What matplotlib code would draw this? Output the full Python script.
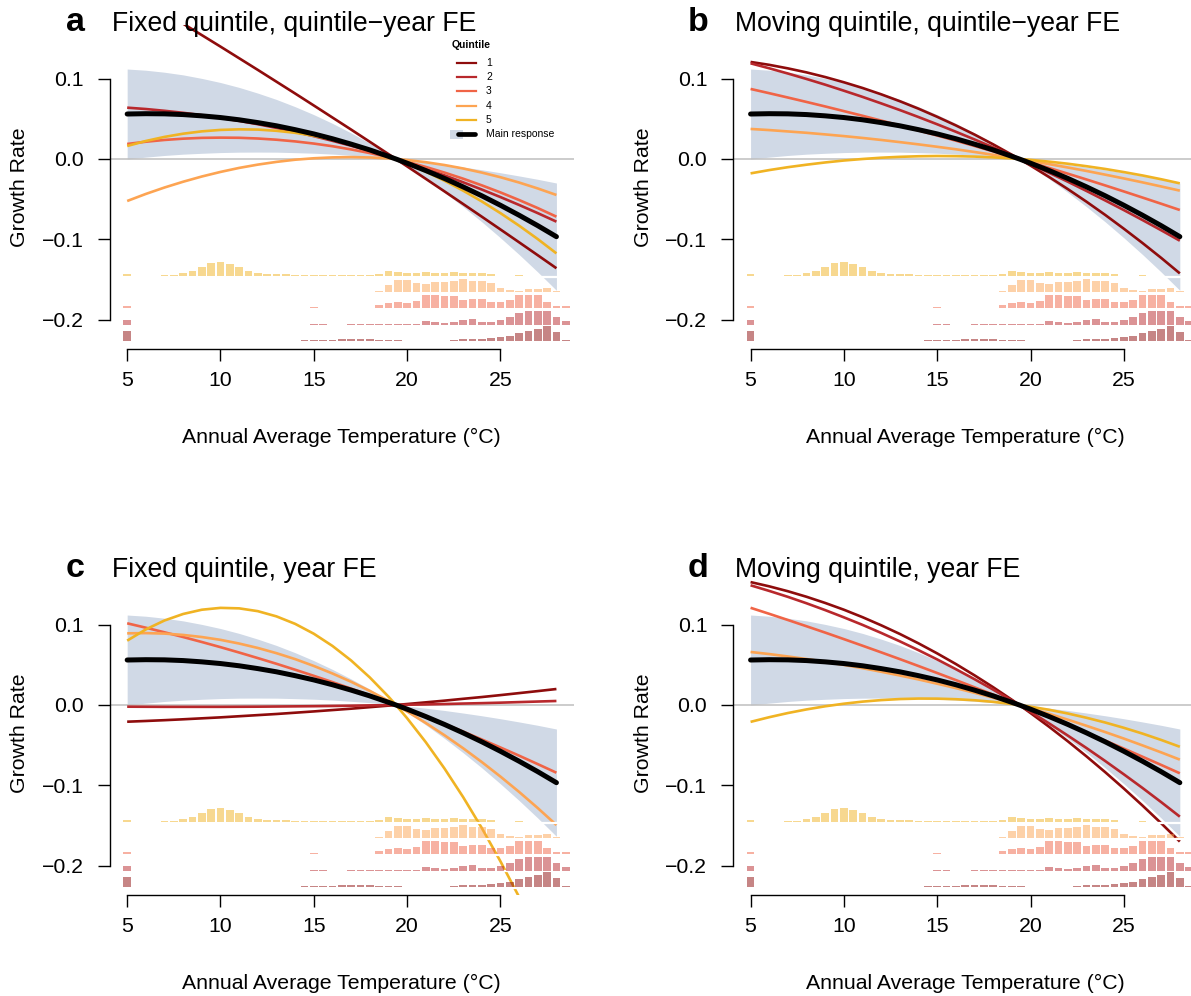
import matplotlib
matplotlib.use("Agg")
import matplotlib.pyplot as plt
from matplotlib.patches import Rectangle
import numpy as np

plt.rcParams['font.family'] = ['Liberation Sans', 'DejaVu Sans']

# ---------------- data ----------------
TEMPS = [5, 6, 7, 8, 9, 10, 11, 12, 13, 14, 15, 16, 17, 18, 19, 19.4,
         20, 21, 22, 23, 24, 25, 26, 27, 28]

MAIN = [0.0560, 0.0564, 0.0562, 0.0553, 0.0537, 0.0516, 0.0488, 0.0453, 0.0413, 0.0365, 0.0312, 0.0252,
        0.0185, 0.0113, 0.0033, 0.0, -0.0052, -0.0144, -0.0242, -0.0347, -0.0458, -0.0576, -0.0700, -0.0830, -0.0967]
BAND_HI = [0.1120, 0.1105, 0.1080, 0.1047, 0.1003, 0.0952, 0.0891, 0.0820, 0.0741, 0.0651, 0.0552, 0.0443,
           0.0324, 0.0197, 0.0058, 0.0, -0.0014, -0.0040, -0.0068, -0.0100, -0.0134, -0.0171, -0.0211, -0.0253, -0.0299]
BAND_LO = [0.0000, 0.0023, 0.0044, 0.0060, 0.0071, 0.0080, 0.0085, 0.0086, 0.0085, 0.0079, 0.0072, 0.0061,
           0.0046, 0.0029, 0.0008, 0.0, -0.0090, -0.0248, -0.0416, -0.0594, -0.0782, -0.0981, -0.1189, -0.1407, -0.1635]

# panel a: fixed quintile, quintile-year FE
A_Q1 = [0.2105, 0.1966, 0.1826, 0.1684, 0.1542, 0.1399, 0.1254, 0.1109, 0.0962, 0.0815, 0.0666, 0.0516,
        0.0366, 0.0214, 0.0061, 0.0, -0.0092, -0.0247, -0.0403, -0.0560, -0.0718, -0.0877, -0.1037, -0.1198, -0.1360]
A_Q2 = [0.0639, 0.0622, 0.0600, 0.0575, 0.0545, 0.0512, 0.0474, 0.0433, 0.0387, 0.0338, 0.0284, 0.0226,
        0.0165, 0.0099, 0.0029, 0.0, -0.0045, -0.0123, -0.0204, -0.0290, -0.0380, -0.0474, -0.0572, -0.0674, -0.0780]
A_Q3 = [0.0187, 0.0215, 0.0237, 0.0253, 0.0263, 0.0266, 0.0264, 0.0255, 0.0240, 0.0219, 0.0192, 0.0159,
        0.0119, 0.0074, 0.0022, 0.0, -0.0035, -0.0099, -0.0169, -0.0245, -0.0328, -0.0416, -0.0511, -0.0611, -0.0718]
A_Q4 = [-0.0523, -0.0435, -0.0355, -0.0283, -0.0218, -0.0161, -0.0111, -0.0070, -0.0036, -0.0009, 0.0009, 0.0020,
        0.0024, 0.0019, 0.0007, 0.0, -0.0013, -0.0040, -0.0075, -0.0118, -0.0169, -0.0227, -0.0293, -0.0367, -0.0448]
A_Q5 = [0.0162, 0.0224, 0.0275, 0.0315, 0.0344, 0.0362, 0.0369, 0.0366, 0.0351, 0.0326, 0.0289, 0.0242,
        0.0184, 0.0115, 0.0035, 0.0, -0.0056, -0.0158, -0.0270, -0.0394, -0.0528, -0.0674, -0.0830, -0.0997, -0.1175]

# panel b: moving quintile, quintile-year FE
B_Q1 = [0.1208, 0.1172, 0.1128, 0.1078, 0.1020, 0.0955, 0.0884, 0.0805, 0.0719, 0.0626, 0.0525, 0.0418,
        0.0304, 0.0182, 0.0053, 0.0, -0.0082, -0.0225, -0.0375, -0.0532, -0.0696, -0.0868, -0.1046, -0.1231, -0.1424]
B_Q2 = [0.1191, 0.1129, 0.1064, 0.0996, 0.0925, 0.0850, 0.0773, 0.0692, 0.0609, 0.0522, 0.0432, 0.0339,
        0.0243, 0.0144, 0.0042, 0.0, -0.0064, -0.0172, -0.0283, -0.0398, -0.0516, -0.0636, -0.0760, -0.0887, -0.1017]
B_Q3 = [0.0872, 0.0819, 0.0765, 0.0710, 0.0654, 0.0596, 0.0538, 0.0478, 0.0417, 0.0355, 0.0292, 0.0228,
        0.0162, 0.0095, 0.0027, 0.0, -0.0042, -0.0112, -0.0183, -0.0255, -0.0329, -0.0404, -0.0480, -0.0557, -0.0635]
B_Q4 = [0.0374, 0.0360, 0.0343, 0.0326, 0.0306, 0.0285, 0.0262, 0.0237, 0.0210, 0.0182, 0.0152, 0.0121,
        0.0087, 0.0052, 0.0015, 0.0, -0.0023, -0.0064, -0.0106, -0.0149, -0.0195, -0.0242, -0.0291, -0.0342, -0.0394]
B_Q5 = [-0.0179, -0.0138, -0.0102, -0.0071, -0.0043, -0.0019, 0.0000, 0.0016, 0.0027, 0.0034, 0.0037, 0.0035,
        0.0030, 0.0020, 0.0007, 0.0, -0.0011, -0.0033, -0.0059, -0.0090, -0.0124, -0.0163, -0.0205, -0.0252, -0.0303]

# panel c: fixed quintile, year FE
C_Q1 = [-0.0208, -0.0199, -0.0189, -0.0178, -0.0166, -0.0154, -0.0140, -0.0126, -0.0112, -0.0096, -0.0080, -0.0063,
        -0.0046, -0.0027, -0.0008, 0.0, 0.0012, 0.0033, 0.0054, 0.0077, 0.0099, 0.0123, 0.0148, 0.0173, 0.0199]
C_Q2 = [-0.0021, -0.0022, -0.0023, -0.0023, -0.0023, -0.0023, -0.0022, -0.0021, -0.0019, -0.0017, -0.0015, -0.0012,
        -0.0009, -0.0005, -0.0002, 0.0, 0.0003, 0.0007, 0.0012, 0.0018, 0.0023, 0.0029, 0.0036, 0.0043, 0.0050]
C_Q3 = [0.1017, 0.0962, 0.0905, 0.0846, 0.0784, 0.0720, 0.0653, 0.0584, 0.0513, 0.0439, 0.0363, 0.0285,
        0.0204, 0.0121, 0.0035, 0.0, -0.0053, -0.0144, -0.0236, -0.0331, -0.0429, -0.0529, -0.0631, -0.0736, -0.0843]
C_Q4 = [0.0892, 0.0895, 0.0889, 0.0872, 0.0846, 0.0811, 0.0765, 0.0710, 0.0645, 0.0571, 0.0486, 0.0392,
        0.0289, 0.0175, 0.0052, 0.0, -0.0081, -0.0224, -0.0376, -0.0538, -0.0710, -0.0891, -0.1082, -0.1283, -0.1494]
C_Q5 = [0.0801, 0.0941, 0.1052, 0.1133, 0.1186, 0.1209, 0.1203, 0.1168, 0.1103, 0.1010, 0.0887, 0.0735,
        0.0554, 0.0343, 0.0104, 0.0, -0.0165, -0.0463, -0.0790, -0.1146, -0.1531, -0.1946, -0.2390, -0.2863, -0.3365]

# panel d: moving quintile, year FE
D_Q1 = [0.1530, 0.1477, 0.1416, 0.1347, 0.1270, 0.1186, 0.1093, 0.0992, 0.0884, 0.0767, 0.0642, 0.0510,
        0.0369, 0.0221, 0.0065, 0.0, -0.0100, -0.0272, -0.0452, -0.0640, -0.0836, -0.1040, -0.1252, -0.1472, -0.1700]
D_Q2 = [0.1490, 0.1420, 0.1346, 0.1266, 0.1181, 0.1091, 0.0997, 0.0897, 0.0792, 0.0682, 0.0567, 0.0446,
        0.0321, 0.0191, 0.0056, 0.0, -0.0085, -0.0230, -0.0381, -0.0536, -0.0697, -0.0863, -0.1033, -0.1209, -0.1390]
D_Q3 = [0.1210, 0.1135, 0.1058, 0.0980, 0.0901, 0.0820, 0.0738, 0.0655, 0.0571, 0.0485, 0.0398, 0.0310,
        0.0220, 0.0129, 0.0037, 0.0, -0.0056, -0.0151, -0.0247, -0.0344, -0.0443, -0.0543, -0.0644, -0.0746, -0.0850]
D_Q4 = [0.0660, 0.0634, 0.0604, 0.0572, 0.0537, 0.0499, 0.0458, 0.0414, 0.0367, 0.0318, 0.0265, 0.0210,
        0.0152, 0.0090, 0.0026, 0.0, -0.0041, -0.0110, -0.0183, -0.0259, -0.0337, -0.0418, -0.0503, -0.0590, -0.0680]
D_Q5 = [-0.0210, -0.0152, -0.0100, -0.0055, -0.0016, 0.0016, 0.0042, 0.0061, 0.0074, 0.0080, 0.0079, 0.0072,
        0.0059, 0.0039, 0.0012, 0.0, -0.0021, -0.0060, -0.0106, -0.0159, -0.0218, -0.0284, -0.0356, -0.0435, -0.0520]

# temperature distribution by quintile (bin centres 5 .. 28.5 step 0.5), heights in 1/1000 growth units
HIST_BINS = [5.0, 5.5, 6.0, 6.5, 7.0, 7.5, 8.0, 8.5, 9.0, 9.5, 10.0, 10.5, 11.0, 11.5, 12.0, 12.5,
             13.0, 13.5, 14.0, 14.5, 15.0, 15.5, 16.0, 16.5, 17.0, 17.5, 18.0, 18.5, 19.0, 19.5, 20.0, 20.5,
             21.0, 21.5, 22.0, 22.5, 23.0, 23.5, 24.0, 24.5, 25.0, 25.5, 26.0, 26.5, 27.0, 27.5, 28.0, 28.5]
HIST_Q5 = [2.1, 0, 0, 0.4, 0.8, 1.7, 3.3, 6.2,
           10.8, 16.6, 17.8, 15.4, 10.8, 6.6, 4.2, 2.9,
           2.5, 2.1, 1.7, 0.8, 0.8, 0.8, 1.7, 1.7,
           1.2, 1.2, 1.7, 2.9, 6.6, 4.6, 3.3, 3.3,
           4.6, 3.7, 3.7, 4.6, 3.7, 3.3, 4.2, 2.1,
           0.4, 0, 0.8, 0.4, 0.4, 0, 0, 0]
HIST_Q4 = [0.4, 0, 0, 0, 0, 0, 0, 0,
           0, 0, 0, 0, 0, 0, 0, 0,
           0, 0, 0, 0.4, 0.6, 0, 0, 0,
           0, 0.2, 0.4, 1.7, 9.1, 14.9, 14.9, 11.2,
           10.0, 12.5, 12.5, 13.7, 16.2, 14.5, 14.1, 11.2,
           5.8, 2.5, 1.7, 4.2, 4.2, 4.6, 1.7, 0]
HIST_Q3 = [3.7, 0, 0, 0, 0, 0, 0, 0,
           0, 0, 0.8, 1.2, 0.8, 0, 0, 0,
           0, 0, 0, 0.8, 2.1, 1.2, 0.4, 0,
           0.8, 0.8, 1.2, 4.2, 7.1, 7.9, 6.6, 9.5,
           17.0, 16.2, 15.8, 15.4, 10.4, 11.6, 11.6, 8.3,
           8.3, 10.0, 16.2, 17.0, 16.2, 7.9, 2.5, 2.5]
HIST_Q2 = [5.6, 0, 0, 0, 0, 0, 0, 0,
           0, 0, 0, 0, 0, 0, 0, 0,
           0, 0, 0, 0, 0.4, 0.4, 0, 0,
           1.2, 1.2, 1.2, 0.8, 0.8, 0.8, 0.4, 1.2,
           4.6, 3.7, 2.5, 2.9, 5.8, 7.1, 2.9, 3.7,
           5.8, 9.4, 14.5, 17.6, 16.8, 17.0, 10.2, 4.2]
HIST_Q1 = [12.0, 0, 0, 0, 0, 0, 0, 0,
           0, 0, 0, 0, 0, 0, 0, 0,
           0, 0.4, 0.6, 0.8, 0.8, 1.2, 1.7, 2.1,
           2.5, 2.5, 2.1, 1.7, 1.7, 0.8, 0.4, 0.4,
           0.4, 0.2, 0.4, 0.8, 2.5, 2.9, 2.1, 3.7,
           4.8, 6.4, 9.8, 13.1, 15.5, 18.2, 11.8, 1.6]

QUINTILE_LABELS = ["1", "2", "3", "4", "5"]
TITLES = ["Fixed quintile, quintile\u2212year FE", "Moving quintile, quintile\u2212year FE",
          "Fixed quintile, year FE", "Moving quintile, year FE"]
LETTERS = ["a", "b", "c", "d"]
X_TICKS = [5, 10, 15, 20, 25]
Y_TICKS = [-0.2, -0.1, 0.0, 0.1]

# ---------------- style ----------------
Q_COLORS = ['#8E0C0C', '#B8282C', '#F06446', '#FDA452', '#F0B323']
BAND_COLOR = '#D0D9E6'
FW, FH = 1191, 996
AX_W, AX_H = 463.6, 324.3
XLIM = (4.08, 28.92)
YLIM = (-0.2369, 0.1668)
BASE_FS = 15.3

fig = plt.figure(figsize=(FW / 100, FH / 100), dpi=100)

panels = [
    (110.0, 25.0, [A_Q1, A_Q2, A_Q3, A_Q4, A_Q5]),
    (733.4, 25.0, [B_Q1, B_Q2, B_Q3, B_Q4, B_Q5]),
    (110.0, 571.0, [C_Q1, C_Q2, C_Q3, C_Q4, C_Q5]),
    (733.4, 571.0, [D_Q1, D_Q2, D_Q3, D_Q4, D_Q5]),
]
hists = [HIST_Q1, HIST_Q2, HIST_Q3, HIST_Q4, HIST_Q5]


def fx(px):
    return px / FW


def fy(py):
    return 1 - py / FH


for k, (left, top, curves) in enumerate(panels):
    ax = fig.add_axes([fx(left), fy(top + AX_H), AX_W / FW, AX_H / FH])
    ax.set_xlim(*XLIM)
    ax.set_ylim(*YLIM)
    ax.patch.set_alpha(0)

    ax.fill_between(TEMPS, BAND_LO, BAND_HI, color=BAND_COLOR, lw=0, zorder=1)
    ax.axhline(0, color='#BEBEBE', lw=1.1, zorder=2)
    for q in range(5):
        ax.plot(TEMPS, curves[q], color=Q_COLORS[q], lw=1.9, zorder=3,
                solid_capstyle='butt')
    ax.plot(TEMPS, MAIN, color='black', lw=3.6, zorder=4, solid_capstyle='round')

    # histograms: quintile 5 on top row, quintile 1 on bottom row
    for q in range(5):
        row = 4 - q
        base = -0.1455 - 0.0203 * row
        # white baseline strip under each histogram row
        ax.hlines(base - 0.0008, HIST_BINS[0] - 0.25, HIST_BINS[-1] + 0.25,
                  color='white', lw=1.6, zorder=5)
        heights = np.array(hists[q]) / 1000.0
        rgba = matplotlib.colors.to_rgba(Q_COLORS[q], 0.5)
        ax.bar(HIST_BINS, heights, width=0.41, bottom=base, color=rgba,
               edgecolor='none', linewidth=0, zorder=6)

    for s in ['top', 'right']:
        ax.spines[s].set_visible(False)
    ax.spines['left'].set_bounds(-0.2, 0.1)
    ax.spines['bottom'].set_bounds(5, 25)
    for s in ['left', 'bottom']:
        ax.spines[s].set_linewidth(1.0)
    ax.set_xticks(X_TICKS)
    ax.set_yticks(Y_TICKS)
    ax.set_xticklabels([str(t) for t in X_TICKS])
    ax.set_yticklabels(['\u22120.2', '\u22120.1', '0.0', '0.1'])
    ax.tick_params(axis='both', direction='out', length=8.9, width=1.0,
                   labelsize=BASE_FS)
    ax.tick_params(axis='x', pad=7.0)
    ax.tick_params(axis='y', pad=10.0)

    # labels
    fig.text(fx(left + AX_W / 2), fy(top + 412), "Annual Average Temperature (\u00b0C)",
             fontsize=BASE_FS, ha='center', va='center')
    fig.text(fx(left - 90), fy(top + 162), "Growth Rate", fontsize=BASE_FS,
             rotation=90, ha='center', va='center')
    fig.text(fx(left + 2), fy(top + 6), TITLES[k], fontsize=19.2,
             ha='left', va='baseline')
    fig.text(fx(left - 35), fy(top + 6), LETTERS[k], fontsize=24.5,
             fontweight='bold', ha='center', va='baseline')

# legend (panel a)
lg = fig.add_axes([0, 0, 1, 1], zorder=20)
lg.set_xlim(0, FW)
lg.set_ylim(FH, 0)
lg.axis('off')
lg.patch.set_alpha(0)
lg.text(452, 45, "Quintile", fontsize=7.5, fontweight='bold', ha='left', va='center')
rows = [63.3, 77.3, 91.3, 105.5, 119.7]
for q in range(5):
    lg.plot([457, 476], [rows[q], rows[q]], color=Q_COLORS[q], lw=1.6)
    lg.text(486, rows[q], QUINTILE_LABELS[q], fontsize=7.5, ha='left', va='center')
lg.add_patch(Rectangle((450, 129.5), 13, 9.5, color=BAND_COLOR, lw=0))
lg.plot([458, 475], [134.2, 134.2], color='black', lw=3.4, solid_capstyle='round')
lg.text(486, 134.2, "Main response", fontsize=7.5, ha='left', va='center')

fig.savefig("out.png", dpi=100)
